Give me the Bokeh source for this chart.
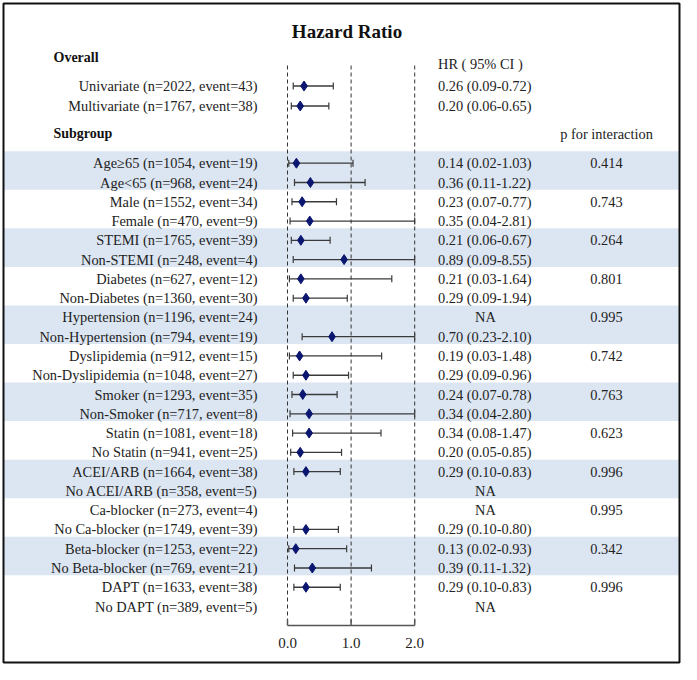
import numpy as np
from bokeh.plotting import figure
from bokeh.models import Range1d, ColumnDataSource
from bokeh.core.properties import value
from bokeh.embed import file_html
from bokeh.resources import INLINE

nan = float("nan")

# ---------------- data ----------------
overall_labels = ["Univariate (n=2022, event=43)", "Multivariate (n=1767, event=38)"]
overall_hr = [0.26, 0.20]
overall_lo = [0.09, 0.06]
overall_hi = [0.72, 0.65]
overall_text = ["0.26 (0.09-0.72)", "0.20 (0.06-0.65)"]

sub_labels = [
    "Age\u226565 (n=1054, event=19)", "Age<65 (n=968, event=24)",
    "Male (n=1552, event=34)", "Female (n=470, event=9)",
    "STEMI (n=1765, event=39)", "Non-STEMI (n=248, event=4)",
    "Diabetes (n=627, event=12)", "Non-Diabetes (n=1360, event=30)",
    "Hypertension (n=1196, event=24)", "Non-Hypertension (n=794, event=19)",
    "Dyslipidemia (n=912, event=15)", "Non-Dyslipidemia (n=1048, event=27)",
    "Smoker (n=1293, event=35)", "Non-Smoker (n=717, event=8)",
    "Statin (n=1081, event=18)", "No Statin (n=941, event=25)",
    "ACEI/ARB (n=1664, event=38)", "No ACEI/ARB (n=358, event=5)",
    "Ca-blocker (n=273, event=4)", "No Ca-blocker (n=1749, event=39)",
    "Beta-blocker (n=1253, event=22)", "No Beta-blocker (n=769, event=21)",
    "DAPT (n=1633, event=38)", "No DAPT (n=389, event=5)",
]
sub_hr = [0.14, 0.36, 0.23, 0.35, 0.21, 0.89, 0.21, 0.29, nan, 0.70, 0.19, 0.29,
          0.24, 0.34, 0.34, 0.20, 0.29, nan, nan, 0.29, 0.13, 0.39, 0.29, nan]
sub_lo = [0.02, 0.11, 0.07, 0.04, 0.06, 0.09, 0.03, 0.09, nan, 0.23, 0.03, 0.09,
          0.07, 0.04, 0.08, 0.05, 0.10, nan, nan, 0.10, 0.02, 0.11, 0.10, nan]
sub_hi = [1.03, 1.22, 0.77, 2.81, 0.67, 8.55, 1.64, 0.94, nan, 2.10, 1.48, 0.96,
          0.78, 2.80, 1.47, 0.85, 0.83, nan, nan, 0.80, 0.93, 1.32, 0.83, nan]
sub_text = [
    "0.14 (0.02-1.03)", "0.36 (0.11-1.22)",
    "0.23 (0.07-0.77)", "0.35 (0.04-2.81)",
    "0.21 (0.06-0.67)", "0.89 (0.09-8.55)",
    "0.21 (0.03-1.64)", "0.29 (0.09-1.94)",
    "NA", "0.70 (0.23-2.10)",
    "0.19 (0.03-1.48)", "0.29 (0.09-0.96)",
    "0.24 (0.07-0.78)", "0.34 (0.04-2.80)",
    "0.34 (0.08-1.47)", "0.20 (0.05-0.85)",
    "0.29 (0.10-0.83)", "NA",
    "NA", "0.29 (0.10-0.80)",
    "0.13 (0.02-0.93)", "0.39 (0.11-1.32)",
    "0.29 (0.10-0.83)", "NA",
]
p_values = ["0.414", "0.743", "0.264", "0.801", "0.995", "0.742",
            "0.763", "0.623", "0.996", "0.995", "0.342", "0.996"]
x_ticks = [0.0, 1.0, 2.0]
x_tick_labels = ["0.0", "1.0", "2.0"]
x_max = 2.0

# ---------------- layout ----------------
W, H = 681, 664
PX0, PXU = 287.0, 63.6      # px of HR=0, px per HR unit


def X(px):
    return (px - PX0) / PXU


FONT = value("Liberation Serif")
FS = "14.4px"
TXT = "#222222"

p = figure(width=W, height=H, output_backend="svg", toolbar_location=None,
           x_range=Range1d(X(0), X(W)), y_range=Range1d(H, 0),
           x_axis_type=None, y_axis_type=None, min_border=0,
           outline_line_color=None,
           background_fill_color="white", border_fill_color="white")
p.grid.visible = False

n_groups = len(p_values)
row_y = [162.7 + 38.55 * (i // 2) + 19.3 * (i % 2) for i in range(len(sub_labels))]
group_y = [row_y[2 * g] for g in range(n_groups)]
ov_y = [85.5, 105.5]

# bands
band_y = [group_y[g] + 7.3 for g in range(0, n_groups, 2)]
p.hbar(y=band_y, height=38.55, left=X(3), right=X(W - 2), fill_color="#dce6f2",
       line_color=None)

# outer frame
p.quad(left=[X(3)], right=[X(W - 2)], top=[3], bottom=[H - 2],
       fill_color=None, line_color="#111111", line_width=2)

# dashed reference lines
p.segment(x0=x_ticks, x1=x_ticks, y0=[65] * 3, y1=[625] * 3,
          line_color="#333333", line_dash="4 3", line_width=1)

# axis
p.segment(x0=[x_ticks[0]], x1=[x_ticks[-1]], y0=[625], y1=[625],
          line_color="#555555", line_width=1.5)
p.segment(x0=x_ticks, x1=x_ticks, y0=[625] * 3, y1=[619] * 3,
          line_color="#555555", line_width=1.5)
p.text(x=x_ticks, y=[642] * 3, text=x_tick_labels, text_font=FONT,
       text_font_size="15px", text_align="center", text_baseline="middle",
       text_color=TXT)

# forest marks
all_hr = overall_hr + sub_hr
all_lo = overall_lo + sub_lo
all_hi = [min(v, x_max) if not np.isnan(v) else v for v in overall_hi + sub_hi]
all_y = ov_y + row_y
keep = [i for i in range(len(all_hr)) if not np.isnan(all_hr[i])]
src = ColumnDataSource(dict(
    hr=[all_hr[i] for i in keep], lo=[all_lo[i] for i in keep],
    hi=[all_hi[i] for i in keep], y=[all_y[i] for i in keep]))
p.segment(x0="lo", x1="hi", y0="y", y1="y", source=src, line_color="#3a3a3a",
          line_width=1.3)
for col in ("lo", "hi"):
    p.scatter(x=col, y="y", source=src, marker="dash", angle=np.pi / 2, size=7,
              line_color="#3a3a3a", line_width=1.2)
p.scatter(x="hr", y="y", source=src, marker="diamond", size=10,
          fill_color="#0b1670", line_color="#0b1670")

# texts
p.text(x=[X(346.5)], y=[31], text=["Hazard Ratio"], text_font=FONT,
       text_font_size="19px", text_font_style="bold", text_align="center",
       text_baseline="middle", text_color="#111111")
p.text(x=[X(53)] * 2, y=[57, 133], text=["Overall", "Subgroup"], text_font=FONT,
       text_font_size="14px", text_font_style="bold", text_align="left",
       text_baseline="middle", text_color="#111111")
p.text(x=[X(257)] * len(all_y), y=all_y, text=overall_labels + sub_labels,
       text_font=FONT, text_font_size=FS, text_align="right",
       text_baseline="middle", text_color=TXT)

hr_txt = overall_text + sub_text
num_i = [i for i, t in enumerate(hr_txt) if t != "NA"]
na_i = [i for i, t in enumerate(hr_txt) if t == "NA"]
p.text(x=[X(437.5)] * len(num_i), y=[all_y[i] for i in num_i],
       text=[hr_txt[i] for i in num_i], text_font=FONT, text_font_size=FS,
       text_align="left", text_baseline="middle", text_color=TXT)
p.text(x=[X(485)] * len(na_i), y=[all_y[i] for i in na_i],
       text=[hr_txt[i] for i in na_i], text_font=FONT, text_font_size=FS,
       text_align="center", text_baseline="middle", text_color=TXT)
p.text(x=[X(437.5)], y=[63], text=["HR ( 95% CI )"], text_font=FONT,
       text_font_size=FS, text_align="left", text_baseline="middle",
       text_color=TXT)
p.text(x=[X(606)], y=[133], text=["p for interaction"], text_font=FONT,
       text_font_size=FS, text_align="center", text_baseline="middle",
       text_color=TXT)
p.text(x=[X(606)] * n_groups, y=group_y, text=p_values, text_font=FONT,
       text_font_size=FS, text_align="center", text_baseline="middle",
       text_color=TXT)

open("out.html", "w").write(file_html(p, INLINE))
